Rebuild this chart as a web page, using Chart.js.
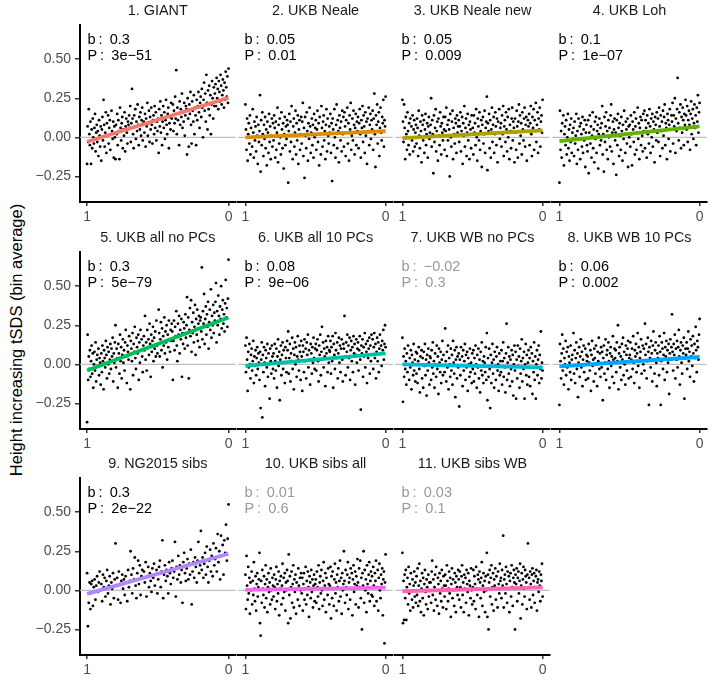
<!DOCTYPE html>
<html><head><meta charset="utf-8">
<script src="https://cdn.jsdelivr.net/npm/chart.js@4/dist/chart.umd.min.js"></script>
<style>
html,body{margin:0;padding:0;background:#fff;}
body{width:712px;height:682px;position:relative;overflow:hidden;font-family:"Liberation Sans",Arial,sans-serif;}
canvas{position:absolute;}
.lab{position:absolute;font-size:14.5px;line-height:16px;white-space:nowrap;}
.ytitle{position:absolute;left:16px;top:340px;transform:translate(-50%,-50%) rotate(-90deg);font-size:16.5px;color:#000;white-space:nowrap;}
</style></head><body>
<div class="ytitle">Height increasing tSDS (bin average)</div>
<script>
// ---- text ----
const panelTitles = ['1. GIANT','2. UKB Neale','3. UKB Neale new','4. UKB Loh','5. UKB all no PCs','6. UKB all 10 PCs','7. UKB WB no PCs','8. UKB WB 10 PCs','9. NG2015 sibs','10. UKB sibs all','11. UKB sibs WB'];
const bLabels = ['0.3','0.05','0.05','0.1','0.3','0.08','\u22120.02','0.06','0.3','0.01','0.03'];
const pLabels = ['3e\u221251','0.01','0.009','1e\u221207','5e\u221279','9e\u221206','0.3','0.002','2e\u221222','0.6','0.1'];
const significant = [true,true,true,true,true,true,false,true,true,false,false];
// fitted regression values at x = 1 (left) and x = 0 (right)
const fitAtX1 = [-0.028,0.00,-0.005,-0.025,-0.04,-0.01,0.00,-0.013,-0.023,0.003,-0.006];
const fitAtX0 = [0.253,0.04,0.045,0.07,0.30,0.07,-0.02,0.047,0.234,0.017,0.019];
const lineColors = ['#F8766D','#DB8E00','#AEA200','#64B200','#00BD5C','#00C1A7','#00BADE','#00A6FF','#B385FF','#EF67EB','#FF63B6'];
const yTickValues = [-0.25,0,0.25,0.5];
const xTickValues = [0,1];

// ---- bin averages, ordered from x = 1 (left) to x = 0 (right) ----
const giantY = [
-0.17,0.07,-0.03,0.18,0.02,-0.05,0.10,-0.17,0.05,-0.07,0.12,0.00,-0.04,0.06,0.15,-0.09,0.03,0.08,-0.03,0.04,-0.12,0.11,0.01,-0.06,0.07,
-0.15,0.05,0.13,-0.02,0.24,0.08,-0.06,0.03,0.16,-0.10,0.09,0.01,0.14,-0.04,0.06,0.11,-0.08,0.02,0.17,0.04,-0.01,0.10,-0.13,0.07,0.00,
-0.14,0.08,0.02,0.15,-0.05,0.11,0.04,-0.14,0.19,0.06,-0.02,0.09,0.13,-0.07,0.05,0.01,0.16,-0.09,0.07,0.12,0.03,-0.04,0.10,0.08,0.14,
0.06,0.20,-0.03,0.09,0.31,0.12,0.02,-0.07,0.14,0.07,0.18,-0.01,0.10,0.04,0.21,0.08,-0.05,0.13,0.05,0.16,0.01,0.11,0.19,-0.02,0.09,
0.10,0.03,0.15,-0.06,0.12,0.07,0.22,0.01,0.09,0.17,-0.03,0.13,0.05,0.19,0.08,-0.04,0.11,0.14,0.02,0.20,0.06,0.16,-0.02,0.10,0.04,
0.12,-0.10,0.18,0.07,0.23,0.03,0.14,-0.05,0.10,0.20,0.06,0.16,-0.01,0.11,0.24,0.08,0.02,0.15,0.19,-0.07,0.09,0.13,0.05,0.22,0.12,
0.14,0.21,0.04,0.17,0.09,0.26,0.12,0.43,0.02,0.19,0.11,0.15,-0.05,0.23,0.08,0.18,0.13,0.28,0.06,0.16,0.10,0.22,0.01,0.14,0.20,
0.18,-0.11,0.25,0.12,-0.06,0.21,0.15,0.29,0.08,-0.04,0.23,0.17,0.10,0.27,0.02,0.19,0.14,-0.05,0.24,0.11,0.20,0.29,0.16,0.06,0.22,
0.26,0.13,0.31,0.19,0.00,0.24,0.35,0.17,0.28,0.10,0.40,0.22,0.05,0.30,0.18,0.33,0.14,0.27,0.02,0.21,0.36,0.25,0.12,0.32,0.20,
0.28,0.34,0.20,0.38,0.25,0.31,0.18,0.36,0.29,0.23,0.40,0.33,0.21,0.27,0.37,0.30,0.19,0.35,0.24,0.42,0.32,0.26,0.39,0.22,0.44];
const ukbNealeY = [
0.21,0.05,-0.08,0.12,-0.15,0.02,0.09,-0.04,0.14,-0.11,0.06,0.00,-0.06,0.18,0.03,-0.13,0.10,-0.02,0.07,-0.09,0.13,0.01,-0.17,0.08,-0.03,
0.04,0.27,-0.22,0.11,-0.05,0.16,0.02,-0.12,0.08,-0.01,0.13,-0.07,0.05,-0.18,0.10,0.03,-0.10,0.15,-0.03,0.07,-0.14,0.01,0.12,-0.06,0.09,
-0.02,0.14,0.06,-0.13,0.10,-0.08,0.03,0.19,-0.16,0.08,-0.04,0.12,0.00,-0.11,0.16,0.05,-0.07,0.09,-0.20,0.02,0.13,-0.05,0.07,-0.01,0.11,
0.08,-0.29,0.04,0.15,-0.09,0.10,-0.03,0.20,0.01,-0.14,0.07,0.12,-0.06,0.03,0.17,-0.11,0.09,-0.02,0.14,-0.17,0.05,0.11,-0.08,0.02,0.13,
-0.04,0.10,0.22,-0.12,0.06,-0.26,0.13,0.01,-0.07,0.16,0.04,-0.15,0.09,-0.01,0.19,0.07,-0.10,0.03,0.12,-0.05,0.08,-0.13,0.15,0.00,0.06,
0.11,-0.08,0.05,0.17,-0.03,0.09,-0.18,0.13,0.02,-0.11,0.20,0.06,-0.06,0.10,0.14,-0.02,0.04,-0.14,0.08,0.18,-0.09,0.12,0.01,-0.04,0.07,
0.03,0.15,-0.10,0.09,-0.28,0.12,0.05,-0.05,0.18,0.00,-0.13,0.08,0.21,-0.07,0.11,0.04,-0.16,0.14,0.06,-0.02,0.10,-0.09,0.17,0.02,0.13,
-0.06,0.16,0.07,-0.12,0.11,0.03,0.19,-0.04,0.09,-0.15,0.14,0.05,0.22,-0.08,0.01,0.12,-0.02,0.17,0.08,-0.11,0.06,0.15,-0.05,0.10,0.04,
0.13,-0.07,0.09,0.18,0.02,-0.13,0.11,0.06,0.20,-0.03,0.14,0.07,-0.10,0.16,0.01,0.10,-0.17,0.12,0.04,0.19,-0.05,0.08,0.15,-0.01,0.11,
0.05,0.17,-0.08,0.12,0.28,0.02,-0.19,0.14,0.08,0.21,-0.04,0.10,0.16,-0.12,0.06,0.19,0.03,-0.02,0.13,0.09,0.24,-0.06,0.11,0.07,0.26];
const ukbNealeNewY = [
0.24,0.10,-0.03,0.21,0.06,-0.14,0.13,0.02,-0.08,0.16,0.04,-0.05,0.09,-0.11,0.12,0.00,0.07,-0.02,0.14,-0.09,0.05,0.11,-0.06,0.03,0.08,
-0.04,0.12,0.06,-0.12,0.17,0.01,-0.07,0.10,0.04,-0.16,0.14,0.08,-0.02,0.11,-0.10,0.05,0.15,-0.05,0.02,0.09,-0.13,0.07,0.13,-0.01,0.03,
0.08,0.25,-0.06,0.11,0.02,-0.23,0.14,-0.03,0.06,0.18,-0.09,0.04,0.10,-0.15,0.12,0.01,-0.05,0.16,0.07,-0.11,0.09,0.03,-0.02,0.13,0.05,
-0.08,0.13,0.04,0.19,-0.12,0.08,-0.02,0.11,0.05,-0.25,0.15,0.00,-0.06,0.10,0.17,-0.14,0.06,0.02,-0.04,0.12,0.09,-0.10,0.14,0.03,0.07,
0.11,-0.03,0.07,0.16,-0.09,0.04,0.13,-0.17,0.09,0.01,0.20,-0.06,0.06,0.12,-0.12,0.03,0.15,-0.02,0.08,-0.14,0.10,0.05,-0.07,0.14,0.02,
0.06,-0.11,0.14,0.03,0.09,-0.05,0.18,0.00,-0.15,0.12,0.07,-0.02,0.16,-0.08,0.04,0.11,-0.19,0.08,0.13,-0.04,0.02,0.17,-0.10,0.06,0.10,
0.26,-0.21,0.09,0.04,0.15,-0.07,0.11,-0.13,0.05,0.19,-0.03,0.08,0.13,-0.10,0.02,0.16,0.07,-0.05,0.12,-0.16,0.10,0.03,0.18,-0.01,0.06,
0.09,-0.06,0.14,0.02,0.20,-0.12,0.07,0.11,-0.03,0.16,0.05,-0.09,0.13,0.00,0.18,-0.14,0.08,0.04,-0.07,0.12,0.19,-0.02,0.10,0.06,-0.16,
0.12,0.03,-0.08,0.17,0.07,-0.13,0.10,0.21,-0.04,0.14,0.01,0.09,-0.11,0.16,0.05,-0.02,0.12,0.19,-0.06,0.08,0.13,-0.15,0.04,0.11,0.07,
0.15,-0.05,0.09,0.20,0.02,-0.12,0.13,0.06,0.18,-0.08,0.11,0.04,0.22,-0.03,0.08,0.16,-0.10,0.12,0.05,0.19,-0.06,0.10,0.14,0.03,0.24];
const ukbLohY = [
-0.29,0.17,-0.08,0.04,-0.13,0.09,-0.02,0.14,-0.18,0.02,0.07,-0.05,0.11,-0.11,0.00,0.15,-0.07,0.05,-0.15,0.08,-0.03,0.12,-0.10,0.03,-0.01,
0.06,-0.12,0.10,-0.04,0.01,0.15,-0.17,0.04,-0.08,0.12,-0.01,0.07,-0.14,0.09,0.02,-0.06,0.13,-0.10,0.05,-0.02,0.11,-0.19,0.03,0.08,-0.05,
-0.09,0.11,-0.23,0.03,0.14,-0.04,0.07,-0.13,0.01,0.16,-0.07,0.05,-0.16,0.10,-0.01,0.13,-0.10,0.04,0.08,-0.20,0.02,0.12,-0.05,0.06,-0.02,
0.09,0.20,-0.11,0.02,-0.22,0.13,-0.03,0.07,0.16,-0.08,0.04,-0.14,0.11,0.00,0.06,-0.06,0.14,0.21,-0.09,0.03,0.10,-0.17,0.05,0.12,-0.02,
0.03,-0.24,0.11,-0.05,0.15,0.06,-0.12,0.09,0.01,-0.08,0.13,0.04,-0.15,0.08,-0.01,0.17,0.02,-0.10,0.10,0.05,-0.04,0.12,-0.19,0.07,0.00,
0.08,-0.06,0.14,0.02,-0.18,0.10,0.05,-0.03,0.16,-0.11,0.07,0.12,-0.08,0.03,0.19,-0.01,0.09,-0.14,0.06,0.13,-0.05,0.11,0.01,-0.09,0.15,
0.04,0.17,-0.07,0.11,0.06,-0.13,0.14,0.02,0.09,-0.04,0.18,0.07,-0.10,0.12,0.00,0.15,-0.06,0.10,0.05,-0.16,0.13,0.08,-0.02,0.16,0.03,
0.12,-0.03,0.19,0.07,-0.12,0.14,0.04,0.10,-0.07,0.17,0.01,0.13,0.21,-0.05,0.09,0.06,-0.14,0.15,0.11,-0.01,0.08,0.18,-0.09,0.05,0.14,
0.10,0.22,-0.04,0.14,0.07,0.25,-0.10,0.12,0.04,0.18,0.38,0.09,-0.02,0.16,0.06,0.21,-0.07,0.13,0.03,0.19,0.11,-0.05,0.15,0.08,0.24,
0.14,0.05,0.20,-0.03,0.11,0.17,0.08,-0.08,0.15,0.23,0.02,0.12,0.18,-0.01,0.09,0.21,0.06,0.14,-0.05,0.19,0.10,0.27,0.03,0.16,0.22];
const ukbAllNoPCsY = [
-0.37,0.19,-0.10,0.05,-0.03,0.09,-0.08,0.02,0.12,-0.06,0.07,-0.15,0.00,0.08,-0.04,0.14,-0.11,0.03,0.06,-0.01,0.10,-0.07,0.04,0.01,-0.13,
0.07,-0.05,0.12,0.02,-0.16,0.09,0.04,-0.02,0.15,0.06,-0.09,0.11,0.00,0.08,-0.06,0.03,0.13,-0.03,0.10,0.05,0.17,-0.11,0.07,0.01,0.14,
0.25,-0.02,0.10,0.04,-0.15,0.13,0.07,-0.06,0.19,0.02,0.11,-0.09,0.06,0.16,0.01,0.09,-0.04,0.14,0.22,0.05,-0.12,0.12,0.08,0.03,0.18,
0.06,-0.16,0.15,0.10,0.02,0.20,-0.07,0.13,0.08,0.24,0.04,-0.03,0.17,0.11,0.07,0.19,-0.10,0.14,0.01,0.22,0.09,0.16,0.05,-0.05,0.12,
0.18,0.09,0.31,0.03,0.14,-0.04,0.22,0.11,0.16,0.06,0.26,0.13,-0.08,0.19,0.08,0.15,0.24,0.02,0.17,0.10,0.21,0.05,0.28,0.12,0.07,
0.13,0.35,0.20,0.05,0.16,0.27,0.09,0.23,-0.02,0.18,0.12,0.30,0.07,0.21,0.14,0.25,0.03,0.19,0.11,0.28,0.16,0.08,0.22,0.15,0.26,
0.21,-0.10,0.15,0.28,0.09,0.24,0.18,0.34,0.12,0.02,0.26,0.19,0.31,0.07,0.22,0.16,0.29,-0.08,0.20,0.13,0.27,0.23,0.10,0.32,0.17,
0.25,0.43,0.12,0.30,-0.09,0.22,0.36,0.18,0.41,0.08,0.27,0.20,0.33,0.14,0.24,0.38,0.06,0.29,0.19,0.35,0.15,0.26,0.31,0.11,0.28,
0.30,0.21,0.62,0.16,0.34,0.26,0.45,0.13,0.29,0.37,0.19,0.32,0.24,0.40,0.10,0.27,0.35,0.22,0.48,0.17,0.31,0.25,0.38,0.20,0.33,
0.28,0.40,0.52,0.14,0.34,0.25,0.44,0.31,0.19,0.37,0.29,0.50,0.23,0.35,0.41,0.26,0.32,0.21,0.39,0.54,0.30,0.36,0.24,0.42,0.67];
const ukbAll10PCsY = [
0.12,-0.05,0.17,0.03,-0.17,0.08,-0.02,0.13,0.00,-0.09,0.06,0.10,-0.04,0.02,0.15,-0.12,0.05,-0.01,0.09,-0.07,0.04,0.11,-0.03,0.07,0.01,
-0.10,0.08,-0.28,0.03,0.14,-0.34,0.06,-0.05,0.11,0.01,-0.14,0.09,0.04,-0.02,0.13,-0.08,0.07,0.00,-0.22,0.10,0.02,-0.06,0.12,0.05,-0.03,
0.07,-0.09,0.13,0.02,-0.04,0.10,-0.15,0.05,0.16,-0.01,0.08,-0.23,0.03,0.12,-0.07,0.06,0.14,-0.03,0.09,0.01,-0.12,0.11,0.04,-0.05,0.15,
0.09,0.21,-0.06,0.04,0.13,-0.11,0.07,0.02,0.17,-0.03,0.10,-0.16,0.06,0.14,0.00,0.11,-0.08,0.05,0.18,0.03,-0.04,0.12,0.08,-0.10,0.15,
0.05,-0.17,0.12,0.08,-0.05,0.16,0.02,0.10,-0.09,0.14,0.06,0.19,-0.02,0.09,0.03,-0.13,0.13,0.07,-0.06,0.11,0.01,0.17,0.04,-0.03,0.10,
0.13,-0.04,0.09,0.16,0.02,-0.11,0.12,0.06,0.19,-0.07,0.08,0.24,0.03,0.14,-0.02,0.10,0.05,-0.14,0.15,0.07,0.11,-0.05,0.18,0.01,0.09,
0.08,0.15,-0.06,0.11,0.02,0.18,-0.15,0.13,0.06,-0.03,0.20,0.09,0.04,0.14,-0.09,0.07,0.17,0.01,0.12,-0.05,0.10,0.16,0.03,-0.11,0.13,
0.10,0.31,0.05,-0.07,0.14,0.08,0.19,-0.02,0.12,0.04,0.17,-0.10,0.09,0.15,0.02,0.11,-0.05,0.18,0.07,0.13,-0.13,0.06,0.16,0.01,0.10,
0.14,-0.04,0.09,0.18,0.03,-0.29,0.12,0.07,0.16,-0.08,0.11,0.05,0.20,-0.02,0.13,0.08,-0.12,0.15,0.04,0.10,0.17,-0.06,0.12,0.02,0.19,
0.06,0.16,-0.03,0.11,0.20,0.04,0.13,-0.09,0.08,0.17,0.02,0.14,-0.05,0.10,0.19,0.07,0.12,-0.01,0.15,0.09,0.22,0.03,0.13,0.25,0.11];
const ukbWBNoPCsY = [
0.17,-0.24,0.05,-0.08,0.10,-0.03,0.02,-0.13,0.07,-0.05,0.12,0.00,-0.10,0.04,-0.02,0.09,-0.16,0.06,0.01,-0.07,0.13,-0.04,0.03,-0.11,0.08,
-0.06,0.07,-0.12,0.02,0.11,-0.03,-0.18,0.05,0.00,0.09,-0.09,0.04,-0.15,0.08,-0.01,0.13,-0.07,0.03,-0.20,0.06,-0.04,0.10,0.01,-0.13,0.05,
0.04,-0.10,0.09,-0.02,0.14,-0.06,0.02,-0.15,0.07,0.00,-0.08,0.12,-0.03,0.05,-0.19,0.10,0.01,-0.05,0.08,-0.12,0.03,0.15,-0.07,0.06,-0.01,
-0.05,0.23,0.02,-0.11,0.08,-0.02,0.12,-0.16,0.04,0.00,-0.08,0.10,-0.04,0.06,-0.13,0.15,0.01,-0.06,0.09,-0.21,0.03,0.11,-0.09,0.05,-0.02,
0.07,-0.27,0.03,-0.07,0.11,-0.01,0.05,-0.14,0.09,-0.04,0.02,0.13,-0.10,0.06,-0.02,0.08,-0.17,0.04,0.00,-0.08,0.10,-0.05,0.01,-0.12,0.07,
-0.03,0.09,-0.11,0.04,-0.06,0.12,0.00,-0.15,0.06,-0.02,0.10,-0.09,0.03,-0.18,0.08,-0.04,0.14,-0.07,0.02,-0.12,0.05,0.01,-0.05,0.11,-0.10,
0.20,-0.23,0.04,-0.08,0.10,-0.03,-0.28,0.06,-0.12,0.01,0.13,-0.06,0.03,-0.15,0.08,-0.01,-0.10,0.05,0.11,-0.04,0.00,-0.17,0.07,-0.07,0.02,
-0.05,0.09,-0.13,0.02,0.14,-0.08,0.04,-0.02,-0.18,0.07,0.26,-0.10,0.01,0.11,-0.06,0.05,-0.14,0.03,-0.03,0.09,-0.11,0.06,-0.20,0.00,0.12,
-0.04,0.08,-0.22,0.03,-0.09,0.12,-0.01,0.05,-0.15,0.10,-0.06,0.02,0.16,-0.11,0.04,-0.03,0.08,-0.22,0.00,0.13,-0.07,0.06,-0.13,0.01,0.09,
-0.08,0.04,-0.14,0.11,-0.02,0.07,-0.19,0.02,-0.05,0.14,-0.10,0.05,-0.22,0.00,0.09,-0.07,0.03,0.12,-0.12,0.06,-0.03,0.21,-0.09,0.01,-0.04];
const ukbWB10PCsY = [
-0.26,0.13,0.02,-0.09,0.07,0.19,-0.04,0.10,-0.13,0.04,0.00,0.15,-0.07,0.08,-0.02,0.11,-0.16,0.05,0.01,-0.05,0.12,-0.10,0.03,0.06,-0.01,
0.20,-0.06,0.09,-0.12,0.04,0.14,-0.03,0.07,-0.21,0.01,0.11,-0.08,0.05,0.16,-0.02,0.08,-0.14,0.03,0.12,-0.05,0.00,0.10,-0.10,0.06,0.02,
0.05,-0.09,0.13,0.01,-0.04,0.09,-0.17,0.06,0.15,-0.01,0.03,-0.11,0.10,0.04,-0.06,0.12,0.00,-0.14,0.08,0.02,0.17,-0.03,0.07,-0.08,0.11,
-0.02,0.08,-0.23,0.04,0.12,-0.06,0.01,0.16,-0.10,0.06,0.09,-0.03,0.14,0.02,-0.15,0.07,0.11,-0.01,0.05,-0.08,0.18,0.03,-0.12,0.10,0.04,
0.09,-0.05,0.14,0.02,0.25,-0.16,0.07,0.11,-0.02,0.05,-0.10,0.13,0.03,0.17,-0.07,0.08,0.00,-0.13,0.12,0.06,-0.04,0.10,0.15,-0.09,0.04,
0.06,0.14,-0.08,0.03,0.10,-0.03,0.18,0.01,-0.12,0.09,0.05,0.13,-0.05,0.07,0.20,-0.01,0.11,-0.15,0.04,0.08,0.16,-0.06,0.02,0.12,0.00,
0.10,-0.04,0.26,0.06,0.13,-0.09,0.02,0.17,0.08,-0.26,0.11,0.04,-0.02,0.15,0.07,-0.11,0.12,0.21,0.03,-0.06,0.09,0.14,0.01,-0.14,0.07,
0.04,0.12,-0.07,0.18,0.08,-0.26,0.02,0.14,0.10,-0.03,0.06,0.20,-0.10,0.11,0.05,0.15,-0.05,0.09,0.01,0.13,-0.19,0.07,0.16,0.03,0.11,
0.32,0.08,-0.04,0.13,0.06,0.19,-0.09,0.10,0.03,0.15,-0.02,0.11,0.22,0.05,-0.13,0.09,0.14,0.01,-0.06,0.12,0.07,0.17,-0.22,0.04,0.10,
0.06,0.14,-0.03,0.10,0.21,0.02,0.08,-0.08,0.16,0.05,0.12,-0.01,0.18,0.07,-0.11,0.13,0.04,0.24,0.09,-0.05,0.15,0.11,0.03,0.19,0.29];
const ng2015SibsY = [
0.11,-0.23,-0.08,0.05,-0.12,0.04,0.06,-0.10,0.02,0.07,-0.06,0.03,0.09,-0.01,0.05,0.12,0.00,
0.04,-0.07,0.10,0.02,0.08,-0.04,0.06,0.13,-0.02,0.03,0.09,-0.09,0.05,0.01,0.11,-0.05,0.07,
0.30,0.03,0.08,-0.06,0.12,0.04,-0.08,0.06,0.10,0.01,0.07,-0.03,0.09,0.05,-0.07,0.13,0.02,
0.06,0.25,0.10,-0.02,0.14,0.07,0.21,0.03,-0.05,0.11,0.19,0.04,0.16,-0.03,0.09,0.13,0.08,
0.12,0.05,0.18,-0.04,0.09,0.15,0.02,0.11,0.06,-0.01,0.14,0.08,0.17,0.03,0.10,0.13,-0.02,
0.07,0.15,0.19,0.02,0.12,0.32,-0.05,0.10,0.16,0.06,0.13,0.09,-0.02,0.18,0.11,0.04,0.14,
0.19,0.08,0.12,0.31,-0.04,0.15,0.07,0.22,0.10,0.16,0.05,0.13,-0.08,0.18,0.24,0.11,0.06,
0.14,0.20,0.07,0.17,0.10,0.26,-0.09,0.12,0.18,0.08,0.21,0.15,0.05,0.19,0.31,0.11,0.16,
0.38,0.13,0.21,0.08,0.17,0.24,0.10,0.28,0.15,0.05,0.19,0.26,0.12,0.22,0.09,0.30,0.16,
0.20,0.27,0.12,0.36,0.18,0.25,0.07,0.35,0.22,0.29,0.10,0.32,0.24,0.42,0.19,0.33,0.55];
const ukbSibsAllY = [
0.10,-0.12,0.22,0.03,-0.06,0.15,-0.02,0.08,-0.15,0.05,0.00,0.12,-0.09,0.06,-0.03,0.18,0.01,-0.07,0.09,-0.13,0.04,0.11,-0.04,0.02,0.07,
0.24,-0.21,-0.29,0.06,-0.08,0.13,0.01,-0.03,0.09,-0.11,0.04,0.16,-0.05,0.07,-0.14,0.02,0.11,-0.01,0.05,-0.09,0.14,0.00,-0.06,0.08,0.03,
-0.04,0.10,0.02,-0.12,0.07,0.15,-0.07,0.04,-0.02,0.12,-0.16,0.06,0.01,0.09,-0.09,0.03,0.17,-0.05,0.08,-0.01,0.11,-0.13,0.05,0.00,0.13,
0.06,-0.21,0.23,-0.03,0.09,-0.18,0.02,0.12,-0.08,0.04,0.16,-0.11,0.07,-0.01,0.10,-0.15,0.05,0.01,-0.06,0.14,0.03,-0.10,0.08,0.00,0.11,
-0.02,0.08,-0.13,0.04,0.11,-0.06,0.01,0.15,-0.09,0.06,-0.03,0.12,0.02,-0.17,0.09,0.05,-0.05,0.13,-0.01,0.07,-0.11,0.03,0.10,-0.07,0.04,
0.07,-0.08,0.12,0.02,-0.04,0.16,-0.12,0.05,0.09,-0.02,0.13,0.00,-0.10,0.06,0.18,-0.06,0.03,0.11,-0.14,0.08,0.01,-0.03,0.14,0.04,-0.09,
0.03,0.15,-0.18,0.09,-0.05,0.12,0.01,-0.10,0.07,0.17,-0.02,0.05,-0.13,0.10,0.02,0.14,-0.07,0.06,0.19,-0.04,0.08,-0.15,0.11,0.00,0.04,
0.25,0.06,-0.08,0.13,0.02,-0.03,0.10,0.18,-0.12,0.05,0.08,-0.06,0.14,0.01,0.11,-0.16,0.07,0.16,-0.01,0.04,0.12,-0.09,0.09,0.03,0.20,
0.05,-0.11,0.14,0.02,0.19,-0.05,0.08,-0.25,0.11,0.03,0.25,-0.08,0.13,0.00,0.07,-0.14,0.16,0.04,-0.02,0.10,0.18,-0.07,0.06,0.12,-0.03,
0.09,-0.04,0.15,0.03,-0.10,0.11,0.06,0.19,-0.07,0.02,0.13,-0.13,0.08,0.17,0.00,-0.05,0.10,0.04,0.14,-0.16,0.07,0.12,-0.34,0.05,0.23];
const ukbSibsWBY = [
0.24,-0.21,0.06,-0.19,0.10,-0.05,0.13,-0.19,0.02,0.08,-0.09,0.15,-0.02,0.04,-0.13,0.11,0.00,-0.06,0.07,-0.11,0.03,0.12,-0.04,0.05,-0.08,
0.09,-0.03,0.14,-0.10,0.03,0.17,-0.07,0.06,-0.14,0.01,0.11,-0.05,0.08,-0.16,0.04,0.13,-0.01,-0.09,0.07,0.02,-0.12,0.10,-0.04,0.05,0.00,
0.05,-0.08,0.12,0.19,-0.03,0.07,-0.13,0.02,0.10,-0.06,0.15,0.00,-0.10,0.08,0.04,-0.15,0.11,-0.02,0.06,-0.07,0.13,0.01,-0.11,0.09,0.03,
-0.04,0.10,0.03,-0.12,0.16,0.06,-0.07,0.01,0.12,-0.02,0.08,-0.17,0.04,0.14,-0.05,0.07,0.00,-0.10,0.11,0.05,-0.14,0.09,0.02,-0.03,0.13,
0.07,-0.06,0.12,0.02,-0.11,0.09,0.16,-0.03,0.05,-0.14,0.10,0.01,0.08,-0.08,0.13,0.04,-0.01,0.11,-0.16,0.06,0.03,-0.05,0.14,0.00,-0.09,
0.02,0.13,-0.07,0.09,0.04,-0.12,0.15,0.01,-0.03,0.10,0.07,-0.17,0.12,0.05,-0.05,0.08,0.18,-0.10,0.03,0.11,-0.01,0.06,-0.14,0.09,0.00,
0.24,-0.17,0.10,-0.25,0.05,0.13,-0.04,0.08,0.16,-0.09,0.02,0.11,-0.13,0.07,0.03,0.14,-0.06,0.09,0.01,-0.11,0.12,0.04,-0.02,0.17,0.06,
0.08,-0.05,0.13,0.03,0.35,-0.11,0.07,0.10,-0.02,0.15,0.04,-0.08,0.12,0.01,0.09,-0.14,0.06,0.11,-0.04,0.16,0.02,-0.10,0.08,0.13,0.05,
-0.25,0.10,0.04,0.14,-0.07,0.08,0.12,-0.02,0.06,0.17,-0.18,0.03,0.11,-0.09,0.07,0.15,0.01,-0.04,0.13,0.09,0.05,-0.12,0.10,0.30,0.02,
0.08,-0.06,0.12,0.04,-0.11,0.10,0.14,-0.03,0.06,0.11,-0.08,0.02,0.09,0.13,-0.13,0.05,0.07,-0.01,0.12,0.03,-0.07,0.10,0.06,0.17,-0.04];

const seriesY = [giantY,ukbNealeY,ukbNealeNewY,ukbLohY,ukbAllNoPCsY,ukbAll10PCsY,ukbWBNoPCsY,ukbWB10PCsY,ng2015SibsY,ukbSibsAllY,ukbSibsWBY];

// ---- layout ----
const PLOT_LEFT = 80, PANEL_W = 157, PANEL_H = 177, TITLE_H = 25, XAXIS_H = 24;
const rowTops = [25, 252, 478];
const FONT = '"Liberation Sans", Arial, sans-serif';
Chart.defaults.font.family = FONT;

const zeroLine = {
  id: 'zeroLine',
  beforeDatasetsDraw(chart) {
    const a = chart.chartArea, y = chart.scales.y.getPixelForValue(0), ctx = chart.ctx;
    ctx.save();
    ctx.strokeStyle = '#bebebe'; ctx.lineWidth = 1.3;
    ctx.beginPath(); ctx.moveTo(a.left, y); ctx.lineTo(a.right, y); ctx.stroke();
    ctx.restore();
  }
};

const fmtY = v => (v < 0 ? '\u2212' : '') + Math.abs(v).toFixed(2);

seriesY.forEach((ys, i) => {
  const r = Math.floor(i / 4), c = i % 4;
  const first = c === 0;
  const left = first ? 0 : PLOT_LEFT + c * PANEL_W;
  const width = first ? PLOT_LEFT + PANEL_W : PANEL_W;
  const top = rowTops[r] - TITLE_H;
  const height = TITLE_H + PANEL_H + XAXIS_H;
  const cv = document.createElement('canvas');
  cv.width = width; cv.height = height;
  cv.style.left = left + 'px'; cv.style.top = top + 'px';
  cv.style.width = width + 'px'; cv.style.height = height + 'px';
  document.body.appendChild(cv);

  const n = ys.length;
  const points = ys.map((y, k) => ({ x: 1 - k / (n - 1), y }));
  const fit = [{ x: xTickValues[1], y: fitAtX1[i] }, { x: xTickValues[0], y: fitAtX0[i] }];

  new Chart(cv, {
    type: 'scatter',
    data: { datasets: [
      { data: fit, showLine: true, borderColor: lineColors[i], backgroundColor: lineColors[i], borderWidth: 3.8, pointRadius: 0, borderCapStyle: 'butt' },
      { data: points, pointRadius: 1.4, pointHoverRadius: 1.4, backgroundColor: '#000', borderColor: '#000', pointBorderWidth: 0 }
    ]},
    options: {
      responsive: false, animation: false, devicePixelRatio: 1,
      layout: { padding: 0 },
      events: [],
      plugins: {
        legend: { display: false }, tooltip: { enabled: false },
        title: { display: true, text: panelTitles[i], fullSize: false, color: '#1a1a1a',
                 font: { size: 14.4, family: FONT, weight: 'normal', lineHeight: '18px' }, padding: { top: 2, bottom: 5 } }
      },
      scales: {
        x: {
          type: 'linear', reverse: true, min: -0.05, max: 1.05,
          afterBuildTicks: s => { s.ticks = xTickValues.map(v => ({ value: v })); },
          afterFit: s => { s.height = XAXIS_H; },
          ticks: { color: '#4d4d4d', font: { size: 14, family: FONT }, padding: 3, autoSkip: false, maxRotation: 0, callback: v => String(v) },
          grid: { drawOnChartArea: false, drawTicks: true, tickLength: 4, color: '#333333', lineWidth: 1.5 },
          border: { display: true, color: '#000', width: 2 }
        },
        y: {
          type: 'linear', display: first, min: -0.414, max: 0.719,
          afterBuildTicks: s => { s.ticks = yTickValues.map(v => ({ value: v })); },
          afterFit: s => { s.width = first ? PLOT_LEFT : 0; },
          ticks: { color: '#4d4d4d', font: { size: 14, family: FONT }, padding: 4, callback: v => fmtY(v) },
          grid: { drawOnChartArea: false, drawTicks: true, tickLength: 5, color: '#333333', lineWidth: 1.5 },
          border: { display: true, color: '#000', width: 2 }
        }
      }
    },
    plugins: [zeroLine]
  });

  const lab = document.createElement('div');
  lab.className = 'lab';
  lab.style.left = (PLOT_LEFT + c * PANEL_W + 7.5) + 'px';
  lab.style.top = (rowTops[r] + 6) + 'px';
  lab.style.color = significant[i] ? '#000' : '#999999';
  lab.innerHTML = 'b\u2009:\u2002' + bLabels[i] + '<br>P\u2009:\u2002' + pLabels[i];
  document.body.appendChild(lab);
});
</script>
</body></html>
